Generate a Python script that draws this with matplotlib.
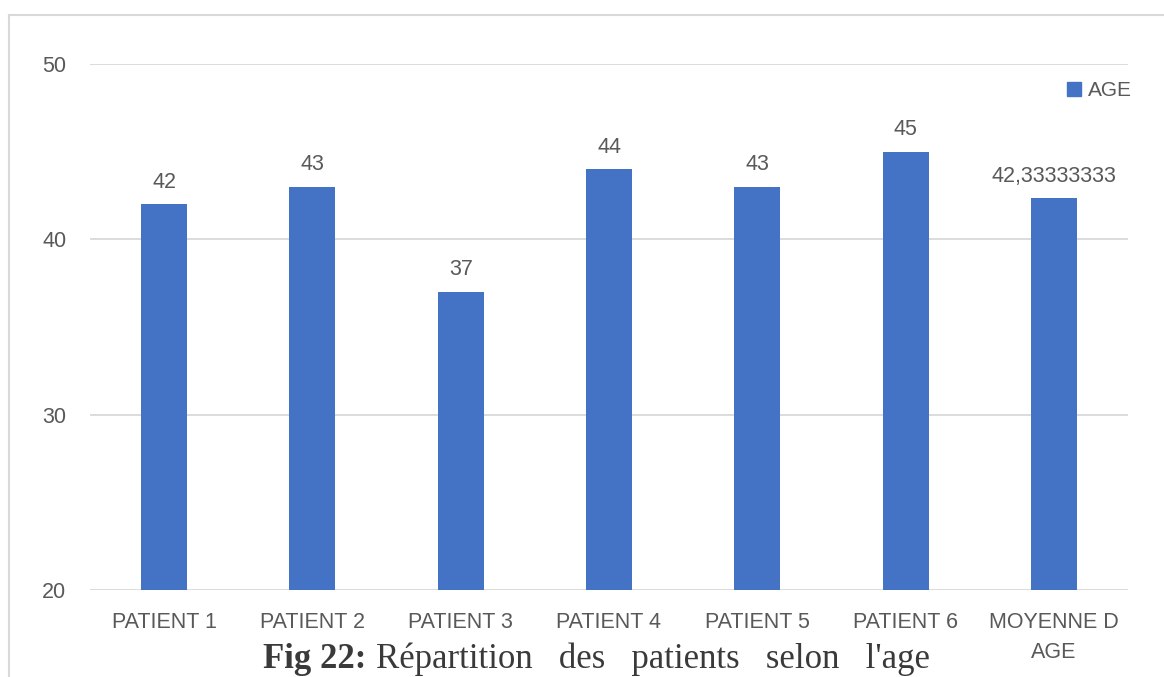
import matplotlib.pyplot as plt
from matplotlib.lines import Line2D

categories = ['PATIENT 1', 'PATIENT 2', 'PATIENT 3', 'PATIENT 4', 'PATIENT 5', 'PATIENT 6', 'MOYENNE D\nAGE']
ages = [42, 43, 37, 44, 43, 45, 42.33333333]
value_labels = ['42', '43', '37', '44', '43', '45', '42,33333333']
yticks = [20, 30, 40, 50]

bar_color = '#4472C4'
text_color = '#595959'
grid_color = '#D9D9D9'

plt.rcParams['font.family'] = ['Liberation Sans', 'DejaVu Sans']

fig = plt.figure(figsize=(11.64, 6.77), dpi=100)
ax = fig.add_axes([90/1164, 1 - 590/677, (1128 - 90)/1164, (590 - 64)/677])

x = list(range(len(categories)))
ax.bar(x, [a - 20 for a in ages], bottom=20, width=0.31, color=bar_color, zorder=3)

for xi, a, lab in zip(x, ages, value_labels):
    ax.text(xi, a + 0.95, lab, ha='center', va='baseline', fontsize=15.5, color=text_color)

ax.set_xlim(-0.5, len(categories) - 0.5)
ax.set_ylim(20, 50)
ax.set_yticks(yticks)
ax.set_yticklabels([str(t) for t in yticks], fontsize=15.5, color=text_color)
ax.set_xticks(x)
ax.set_xticklabels(categories, fontsize=15.5, color=text_color, linespacing=1.55, va='top')
ax.tick_params(axis='both', length=0)
ax.tick_params(axis='y', pad=17)
ax.tick_params(axis='x', pad=16)
ax.grid(axis='y', color=grid_color, linewidth=1.3, zorder=0)
for s in ax.spines.values():
    s.set_visible(False)

handle = Line2D([], [], marker='s', color=bar_color, linestyle='none', markersize=10)
ax.legend([handle], ['AGE'], loc='upper right', bbox_to_anchor=(1.004, 0.968), frameon=False,
          fontsize=15, labelcolor=text_color, handletextpad=-0.05, handlelength=1.5,
          borderaxespad=0, borderpad=0)

# outer chart border (top and left visible)
fig.add_artist(Line2D([9/1164, 9/1164], [0, 1 - 15/677], color=grid_color, linewidth=1.5, transform=fig.transFigure))
fig.add_artist(Line2D([9/1164, 1], [1 - 15/677, 1 - 15/677], color=grid_color, linewidth=1.5, transform=fig.transFigure))

cap = fig.text(263/1164, 1 - 668/677, 'Fig 22:', fontsize=25, fontweight='bold',
               family=['Liberation Serif', 'DejaVu Serif'], color='#3a3a3a', ha='left', va='baseline')
fig.canvas.draw()
bb = cap.get_window_extent()
fig.text((bb.x1 + 10)/1164, 1 - 668/677, "Répartition   des   patients   selon   l'age", fontsize=25,
         family=['Liberation Serif', 'DejaVu Serif'], color='#3a3a3a', ha='left', va='baseline')

fig.savefig('out.png', dpi=100, facecolor='white')
